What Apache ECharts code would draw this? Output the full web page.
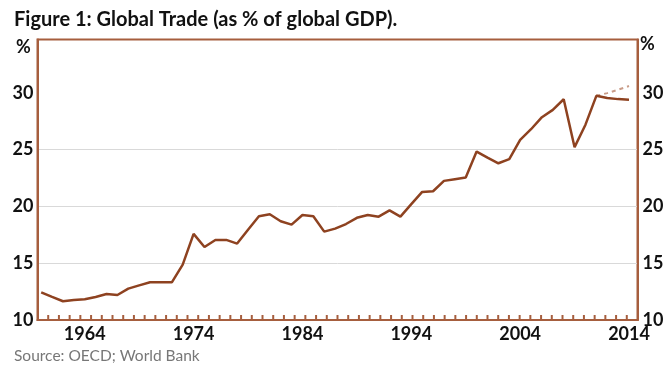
<!DOCTYPE html>
<html>
<head>
<meta charset="utf-8">
<script src="https://cdn.jsdelivr.net/npm/echarts@6/dist/echarts.min.js"></script>
<style>
html,body{margin:0;padding:0;background:#fff;}
#chart{width:672px;height:382px;}
</style>
</head>
<body>
<div id="chart"></div>
<script>
// ---- data ----
var years = [1960,1961,1962,1963,1964,1965,1966,1967,1968,1969,
             1970,1971,1972,1973,1974,1975,1976,1977,1978,1979,
             1980,1981,1982,1983,1984,1985,1986,1987,1988,1989,
             1990,1991,1992,1993,1994,1995,1996,1997,1998,1999,
             2000,2001,2002,2003,2004,2005,2006,2007,2008,2009,
             2010,2011,2012,2013,2014];
var tradeShare = [12.44,12.03,11.65,11.76,11.82,12.03,12.29,12.20,12.76,13.05,
                  13.32,13.32,13.32,14.87,17.58,16.43,17.05,17.05,16.73,17.95,
                  19.14,19.31,18.70,18.40,19.25,19.14,17.78,18.05,18.45,19.00,
                  19.25,19.10,19.65,19.10,20.20,21.28,21.34,22.25,22.40,22.54,
                  24.83,24.30,23.80,24.16,25.86,26.80,27.86,28.50,29.44,25.22,
                  27.20,29.74,29.55,29.45,29.40];
var projYears = [2011,2012,2013,2014];
var projShare = [29.74,29.98,30.28,30.60];
var xTickLabels = [1964,1974,1984,1994,2004,2014];
var yTickLabels = [10,15,20,25,30];

// ---- chart ----
var BROWN = '#8e4220';
var AXIS = '#a65e3e';
var FONT = 'Lato';
var xMin = 1959.66, xMax = 2014.78, yMin = 10, yMax = 34.7;
var minorTicks = [];
for (var k = 1; k < 56; k++) minorTicks.push([xMin + k * (xMax - xMin) / 56, yMin]);

function pairs(xs, ys){ return xs.map(function(x,i){ return [x, ys[i]]; }); }

var chart = echarts.init(document.getElementById('chart'), null, {renderer:'canvas'});
chart.setOption({
  animation: false,
  backgroundColor: '#fff',
  grid: {left: 37.5, right: 34.5, top: 39.5, bottom: 62, show: true,
         borderColor: AXIS, borderWidth: 2, backgroundColor: 'transparent'},
  graphic: [
    {type:'text', left: 14, top: 10, style:{text:'Figure 1: Global Trade (as % of global GDP).',
      font:'bold 20px ' + FONT, fill:'#111'}},
    {type:'text', left: 16, top: 38, style:{text:'%', font:'bold 18px ' + FONT, fill:'#111'}},
    {type:'text', left: 640, top: 35, style:{text:'%', font:'bold 18px ' + FONT, fill:'#111'}},
    {type:'text', left: 14, top: 348, style:{text:'Source: OECD; World Bank', font:'15.5px ' + FONT, fill:'#777'}}
  ],
  xAxis: {
    type: 'value', min: xMin, max: xMax,
    axisLine: {show: true, lineStyle: {color: AXIS, width: 2}},
    axisTick: {show: false},
    axisLabel: {customValues: xTickLabels, color:'#111', fontFamily: FONT, fontWeight:'bold',
                fontSize: 18, margin: 5, formatter: function(v){ return String(Math.round(v)); }},
    splitLine: {show: false}
  },
  yAxis: [
    {type:'value', min: yMin, max: yMax, interval: 5, position:'left',
     axisLine:{show:true, lineStyle:{color: AXIS, width: 2}},
     axisTick:{show:false, customValues: yTickLabels},
     axisLabel:{customValues: yTickLabels, color:'#111', fontFamily: FONT, fontWeight:'bold', fontSize: 18, margin: 4},
     splitLine:{show:true, showMinLine:false, showMaxLine:false, lineStyle:{color:'#d9d9d9', width:1}}},
    {type:'value', min: yMin, max: yMax, interval: 5, position:'right',
     axisLine:{show:true, lineStyle:{color: AXIS, width: 2}},
     axisTick:{show:false},
     axisLabel:{customValues: yTickLabels, color:'#111', fontFamily: FONT, fontWeight:'bold', fontSize: 18, margin: 5},
     splitLine:{show:false}}
  ],
  series: [
    {type:'custom', data: minorTicks, z: 4, silent: true,
     renderItem: function(params, api){
       var p = api.coord([api.value(0), api.value(1)]);
       return {type:'line', shape:{x1:p[0], y1:p[1], x2:p[0], y2:p[1]-5},
               style:{stroke: AXIS, lineWidth: 2}};
     }},
    {type:'line', data: pairs(projYears, projShare), showSymbol:false, symbol:'none',
     lineStyle:{color:'#c99c88', width:2, type:[4,4]}, z: 2},
    {type:'line', data: pairs(years, tradeShare), showSymbol:false, symbol:'none',
     lineStyle:{color: BROWN, width: 2.5}, z: 3}
  ]
});
</script>
</body>
</html>
